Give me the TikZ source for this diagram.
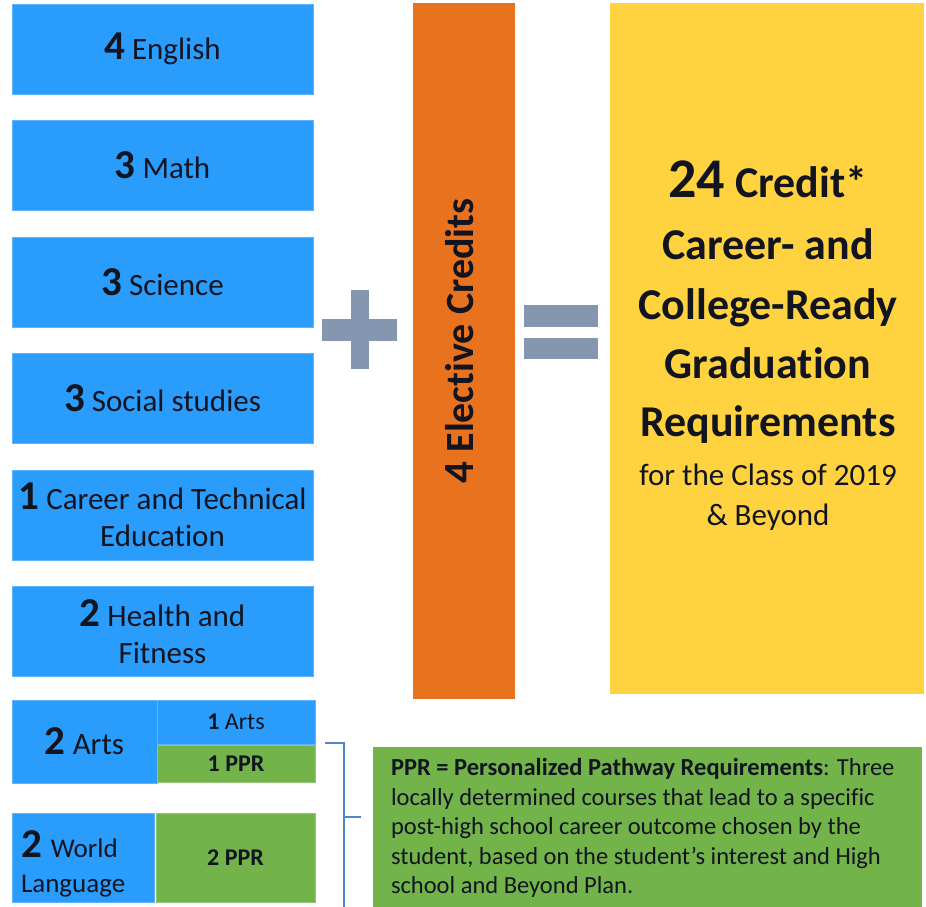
\documentclass[tikz,border=0pt]{standalone}
\usepackage{fontspec}
\setmainfont{Carlito}[Ligatures={NoCommon,TeX}]
\definecolor{cblue}{RGB}{42,156,252}
\definecolor{cgreen}{RGB}{114,179,74}
\definecolor{corange}{RGB}{233,114,31}
\definecolor{cyellow}{RGB}{255,210,64}
\definecolor{cgrey}{RGB}{133,151,176}
\definecolor{cline}{RGB}{78,135,205}
\definecolor{ctxt}{RGB}{18,20,32}
\newcommand\BigDigit{\fontsize{41}{41}\selectfont\bfseries}
\newcommand\SubjFont{\fontsize{31}{37}\selectfont}
\newcommand\SmallFont{\fontsize{24}{28}\selectfont}
\newcommand\HeadFont{\fontsize{44}{52}\selectfont\bfseries}
\begin{document}
\begin{tikzpicture}[x=1pt,y=-1pt,
  every node/.style={inner sep=0pt, outer sep=0pt, text=ctxt},
  blubox/.style={fill=cblue, draw=cblue!75!white, line width=0.6pt, anchor=north west, align=center},
  grnbox/.style={fill=cgreen, draw=cgreen!75!white, line width=0.6pt, anchor=north west, align=center},
  subj/.style={blubox, minimum width=301pt, minimum height=90pt, font=\SubjFont},
  sub/.style={minimum width=158pt, font=\SmallFont},
  sign/.style={fill=cgrey},
  head/.style={anchor=base, font=\HeadFont},
  tail/.style={anchor=base, font=\fontsize{31}{37}\selectfont},
  brk/.style={draw=cline, line width=2.6pt}
]
\useasboundingbox (0,0) rectangle (926,907);
\fill[white] (0,0) rectangle (926,907);

% subject boxes
\node[subj] (eng) at (12,4) {{\BigDigit 4} English};
\node[subj] (math) at (12,120.5) {{\BigDigit 3} Math};
\node[subj] (sci) at (12,237) {{\BigDigit 3} Science};
\node[subj] (soc) at (12,353.5) {{\BigDigit 3} Social studies};
\node[subj] (cte) at (12,470) {{\BigDigit 1} Career and Technical\\Education};
\node[subj] (hlth) at (12,586.5) {{\BigDigit 2} Health and\\Fitness};

% arts
\node[blubox, minimum width=145pt, minimum height=83pt, font=\SubjFont] (arts) at (12,700) {{\BigDigit 2} Arts};
\node[blubox, sub, minimum height=44pt] (arts1) at (157,700) {{\bfseries 1} Arts};
\node[grnbox, sub, minimum height=37pt, font=\SmallFont\bfseries] (ppr1) at (157,745.5) {1 PPR};

% world language
\node[blubox, minimum width=142pt, minimum height=89pt] (wl) at (12,813) {};
\node[anchor=north west, align=left, font=\fontsize{27}{35}\selectfont] (wltxt) at (21,831) {{\BigDigit 2}\hspace{9pt}World\\Language};
\node[grnbox, sub, minimum width=159pt, minimum height=89pt, font=\SmallFont\bfseries] (ppr2) at (156,813) {2 PPR};

% plus sign
\fill[sign] (322,319) rectangle (397,341);
\fill[sign] (351,290) rectangle (369,369);

% elective
\node[fill=corange, anchor=north west, minimum width=102pt, minimum height=696pt] (elec) at (413,3) {};
\node[rotate=90, font=\fontsize{40}{40}\selectfont\bfseries] (electxt) at (460,341) {{\fontsize{43}{43}\selectfont 4} Elective Credits};

% equals sign
\fill[sign] (524,305) rectangle (598,327);
\fill[sign] (524,338) rectangle (598,359);

% result
\node[fill=cyellow, anchor=north west, minimum width=314pt, minimum height=691pt] (res) at (610,3) {};
\node[head] (r1) at (768,197) {{\fontsize{56}{56}\selectfont 24} Credit*};
\node[head] (r2) at (768,259) {Career- and};
\node[head] (r3) at (768,319) {College-Ready};
\node[head] (r4) at (768,378) {Graduation};
\node[head] (r5) at (768,436) {Requirements};
\node[tail] (r6) at (768,485) {for the Class of 2019};
\node[tail] (r7) at (768,525) {\& Beyond};

% PPR note
\node[fill=cgreen, anchor=north west, minimum width=549pt, minimum height=170pt] (note) at (373,747) {};
\node[anchor=north west, align=left, font=\fontsize{24.5}{29.5}\selectfont] (notetxt) at (391,758.5)
 {\textbf{PPR = Personalized Pathway Requirements}: Three\\
  locally determined courses that lead to a specific\\
  post-high school career outcome chosen by the\\
  student, based on the student’s interest and High\\
  school and Beyond Plan.};

% bracket
\coordinate (bstart) at (325,743);
\coordinate (bcor) at (344,743);
\coordinate (bbot) at (344,910);
\coordinate (bmid) at (344,817);
\coordinate (bend) at (361,817);
\draw[brk] (bstart) -- (bcor) -- (bbot);
\draw[brk] (bmid) -- (bend);
\end{tikzpicture}
\end{document}
